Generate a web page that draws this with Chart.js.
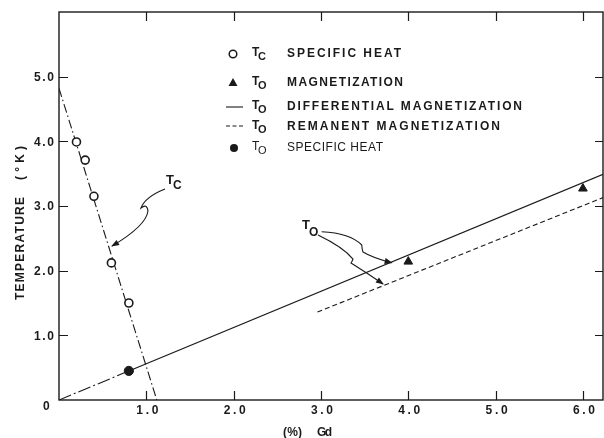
<!DOCTYPE html>
<html><head><meta charset="utf-8">
<script src="https://cdn.jsdelivr.net/npm/chart.js@4.4.1/dist/chart.umd.min.js"></script>
<style>html,body{margin:0;padding:0;background:#fff}#wrap{width:604px;height:438px;position:relative}</style>
</head><body><div id="wrap"><canvas id="c"></canvas></div>
<script>
// ---- data (x = % Gd, y = temperature in K) ----
const tcSpecHeatX = [0.2, 0.3, 0.4, 0.6, 0.8];
const tcSpecHeatY = [3.99, 3.71, 3.15, 2.12, 1.50];
const toMagX = [4.0, 6.0];
const toMagY = [2.14, 3.27];
const toSpecHeatX = [0.8];
const toSpecHeatY = [0.45];
const tcLineX = [0, 1.12];
const tcLineY = [4.82, 0];
const diffExtrapX = [0, 0.82];
const diffExtrapY = [0, 0.46];
const diffLineX = [0.82, 6.23];
const diffLineY = [0.46, 3.49];
const remLineX = [2.96, 6.23];
const remLineY = [1.36, 3.13];

const xTickValues = [1, 2, 3, 4, 5, 6];
const xTickLabels = ['1.0', '2.0', '3.0', '4.0', '5.0', '6.0'];
const yTickValues = [1, 2, 3, 4, 5];
const yTickLabels = ['1.0', '2.0', '3.0', '4.0', '5.0'];
const originLabel = '0';
const xTitleParts = ['(%)', 'Gd'];
const yTitleParts = ['TEMPERATURE', '(°K)'];

const legendMarkers = ['openCircle', 'triangle', 'solid', 'dashed', 'filledCircle'];
const legendSubs = ['C', 'O', 'O', 'O', 'O'];
const legendLabels = ['SPECIFIC HEAT', 'MAGNETIZATION', 'DIFFERENTIAL MAGNETIZATION', 'REMANENT MAGNETIZATION', 'SPECIFIC HEAT'];

// annotation arrows (data coordinates): M p0, Q p1 p2, Q p3 p4, Q p5 p6
const tcArrowPath = [[1.214,3.263],[0.985,3.139],[0.939,2.969],[1.008,3.046],[1.019,2.923],[0.996,2.691],[0.607,2.381]];
const toArrowPath1 = [[3.008,2.602],[3.333,2.582],[3.467,2.397],[3.470,2.330],[3.481,2.289],[3.596,2.196],[3.810,2.123]];
const toArrowPath2 = [[2.966,2.551],[3.252,2.366],[3.367,2.180],[3.360,2.150],[3.344,2.118],[3.527,1.964],[3.711,1.794]];
const tcLabelPos = [1.27, 3.40];
const toLabelPos = [2.83, 2.706];

const pts = (xs, ys) => xs.map((x, i) => ({x, y: ys[i]}));
const INK = '#1a1a1a';
const FONT = '"Liberation Sans", Arial, sans-serif';

function fitText(ctx, str, x, y, width, font, align) {
  ctx.save();
  ctx.font = font;
  ctx.letterSpacing = '0px';
  const w0 = ctx.measureText(str).width;
  const n = [...str].length;
  const ls = n > 1 ? (width - w0) / (n - 1) : 0;
  ctx.letterSpacing = ls + 'px';
  ctx.textBaseline = 'middle';
  ctx.textAlign = 'left';
  const sx = align === 'center' ? x - width / 2 : (align === 'right' ? x - width : x);
  ctx.fillText(str, sx, y);
  ctx.restore();
}

function drawT(ctx, x, y, sub, bold) {
  ctx.save();
  ctx.fillStyle = INK;
  ctx.textBaseline = 'middle';
  ctx.textAlign = 'left';
  ctx.font = (bold ? 'bold ' : '') + '12px ' + FONT;
  ctx.fillText('T', x, y - 1);
  ctx.font = (bold ? 'bold ' : '') + '11px ' + FONT;
  ctx.fillText(sub, x + 6, y + 3);
  ctx.restore();
}

function drawArrow(ctx, xs, ys, path) {
  const p = path.map(([a, b]) => [xs.getPixelForValue(a), ys.getPixelForValue(b)]);
  ctx.save();
  ctx.strokeStyle = INK; ctx.fillStyle = INK; ctx.lineWidth = 1.1;
  ctx.beginPath();
  ctx.moveTo(p[0][0], p[0][1]);
  ctx.quadraticCurveTo(p[1][0], p[1][1], p[2][0], p[2][1]);
  ctx.quadraticCurveTo(p[3][0], p[3][1], p[4][0], p[4][1]);
  ctx.quadraticCurveTo(p[5][0], p[5][1], p[6][0], p[6][1]);
  ctx.stroke();
  const tip = p[6], from = p[5];
  const ang = Math.atan2(tip[1] - from[1], tip[0] - from[0]);
  ctx.translate(tip[0], tip[1]);
  ctx.rotate(ang);
  ctx.beginPath();
  ctx.moveTo(1, 0); ctx.lineTo(-7, -3); ctx.lineTo(-7, 3); ctx.closePath();
  ctx.fill();
  ctx.restore();
}

const decor = {
  id: 'decor',
  afterDraw(chart) {
    const ctx = chart.ctx, a = chart.chartArea;
    const xs = chart.scales.x, ys = chart.scales.y;
    ctx.save();
    ctx.strokeStyle = INK; ctx.fillStyle = INK;
    // frame
    ctx.lineWidth = 1.4;
    ctx.strokeRect(a.left, a.top, a.right - a.left, a.bottom - a.top);
    // inward ticks
    ctx.lineWidth = 1.2;
    ctx.beginPath();
    xTickValues.forEach(v => {
      const px = Math.round(xs.getPixelForValue(v)) + 0.5;
      ctx.moveTo(px, a.bottom); ctx.lineTo(px, a.bottom - 9);
      ctx.moveTo(px, a.top); ctx.lineTo(px, a.top + 9);
    });
    yTickValues.forEach(v => {
      const py = Math.round(ys.getPixelForValue(v)) + 0.5;
      ctx.moveTo(a.left, py); ctx.lineTo(a.left + 9, py);
      ctx.moveTo(a.right, py); ctx.lineTo(a.right - 8, py);
    });
    ctx.stroke();
    // tick labels
    const tf = 'bold 12px ' + FONT;
    xTickValues.forEach((v, i) => fitText(ctx, xTickLabels[i], xs.getPixelForValue(v) + 1, a.bottom + 11, 22, tf, 'center'));
    yTickValues.forEach((v, i) => fitText(ctx, yTickLabels[i], a.left - 5, ys.getPixelForValue(v) + 1, 20, tf, 'right'));
    fitText(ctx, originLabel, a.left - 12, a.bottom + 7, 8, tf, 'center');
    // axis titles
    fitText(ctx, xTitleParts[0], 283, a.bottom + 33, 19, tf, 'left');
    fitText(ctx, xTitleParts[1], 317, a.bottom + 33, 15, tf, 'left');
    ctx.save();
    ctx.translate(21, 0);
    ctx.rotate(-Math.PI / 2);
    fitText(ctx, yTitleParts[0], -300, 0, 103, tf, 'left');
    fitText(ctx, yTitleParts[1], -180, 0, 34, tf, 'left');
    ctx.restore();
    // legend
    const rowsY = [54, 83, 107, 127, 148];
    const widths = [114, 116, 235, 213, 96];
    legendMarkers.forEach((m, i) => {
      const y = rowsY[i], mx = 233;
      ctx.save();
      ctx.lineWidth = 1.5;
      if (m === 'openCircle') {
        ctx.fillStyle = '#fff';
        ctx.beginPath(); ctx.arc(mx, y, 3.8, 0, Math.PI * 2); ctx.fill(); ctx.stroke();
      } else if (m === 'filledCircle') {
        ctx.beginPath(); ctx.arc(mx + 1, y, 4, 0, Math.PI * 2); ctx.fill();
      } else if (m === 'triangle') {
        ctx.beginPath(); ctx.moveTo(mx, y - 5); ctx.lineTo(mx + 4.5, y + 3); ctx.lineTo(mx - 4.5, y + 3); ctx.closePath(); ctx.fill();
      } else if (m === 'solid') {
        ctx.lineWidth = 1.1;
        ctx.beginPath(); ctx.moveTo(226, y); ctx.lineTo(243, y); ctx.stroke();
      } else if (m === 'dashed') {
        ctx.lineWidth = 1.1; ctx.setLineDash([4, 2.5]);
        ctx.beginPath(); ctx.moveTo(226, y - 1); ctx.lineTo(243, y - 1); ctx.stroke();
      }
      ctx.restore();
      const bold = i < 4;
      drawT(ctx, 252, y, legendSubs[i], bold);
      fitText(ctx, legendLabels[i], 287, y, widths[i], (bold ? 'bold ' : '') + '12px ' + FONT, 'left');
    });
    // annotations
    drawArrow(ctx, xs, ys, tcArrowPath);
    drawArrow(ctx, xs, ys, toArrowPath1);
    drawArrow(ctx, xs, ys, toArrowPath2);
    ctx.save();
    ctx.font = 'bold 13px ' + FONT; ctx.textBaseline = 'middle';
    const tcx = xs.getPixelForValue(tcLabelPos[0]), tcy = ys.getPixelForValue(tcLabelPos[1]);
    ctx.fillText('T', tcx - 4, tcy);
    ctx.font = 'bold 12px ' + FONT; ctx.fillText('C', tcx + 3, tcy + 6);
    const tox = xs.getPixelForValue(toLabelPos[0]), toy = ys.getPixelForValue(toLabelPos[1]);
    ctx.font = 'bold 13px ' + FONT; ctx.fillText('T', tox - 4, toy);
    ctx.font = 'bold 12px ' + FONT; ctx.fillText('O', tox + 3, toy + 8);
    ctx.restore();
    ctx.restore();
  }
};

new Chart(document.getElementById('c'), {
  type: 'scatter',
  data: {
    datasets: [
      { label: 'Tc specific heat', data: pts(tcSpecHeatX, tcSpecHeatY), pointStyle: 'circle', pointRadius: 4, borderColor: INK, backgroundColor: '#fff', borderWidth: 1.6 },
      { label: 'To magnetization', data: pts(toMagX, toMagY), pointStyle: 'triangle', pointRadius: 5, borderColor: INK, backgroundColor: INK, borderWidth: 1 },
      { label: 'To specific heat', data: pts(toSpecHeatX, toSpecHeatY), pointStyle: 'circle', pointRadius: 4.6, borderColor: INK, backgroundColor: INK, borderWidth: 1 },
      { label: 'Tc line', data: pts(tcLineX, tcLineY), showLine: true, pointRadius: 0, borderColor: INK, borderWidth: 1.1, borderDash: [9, 3, 1.5, 3] },
      { label: 'To diff extrapolation', data: pts(diffExtrapX, diffExtrapY), showLine: true, pointRadius: 0, borderColor: INK, borderWidth: 1.1, borderDash: [13, 3, 2, 3] },
      { label: 'To differential magnetization', data: pts(diffLineX, diffLineY), showLine: true, pointRadius: 0, borderColor: INK, borderWidth: 1.2 },
      { label: 'To remanent magnetization', data: pts(remLineX, remLineY), showLine: true, pointRadius: 0, borderColor: INK, borderWidth: 1.1, borderDash: [5, 3] }
    ]
  },
  options: {
    responsive: true,
    maintainAspectRatio: false,
    animation: false,
    layout: { autoPadding: false, padding: { left: 59, right: 1, top: 12, bottom: 38 } },
    plugins: { legend: { display: false }, tooltip: { enabled: false } },
    scales: {
      x: { type: 'linear', min: 0, max: 6.23, display: false },
      y: { type: 'linear', min: 0, max: 6.0, display: false }
    }
  },
  plugins: [decor]
});
</script>
</body></html>
